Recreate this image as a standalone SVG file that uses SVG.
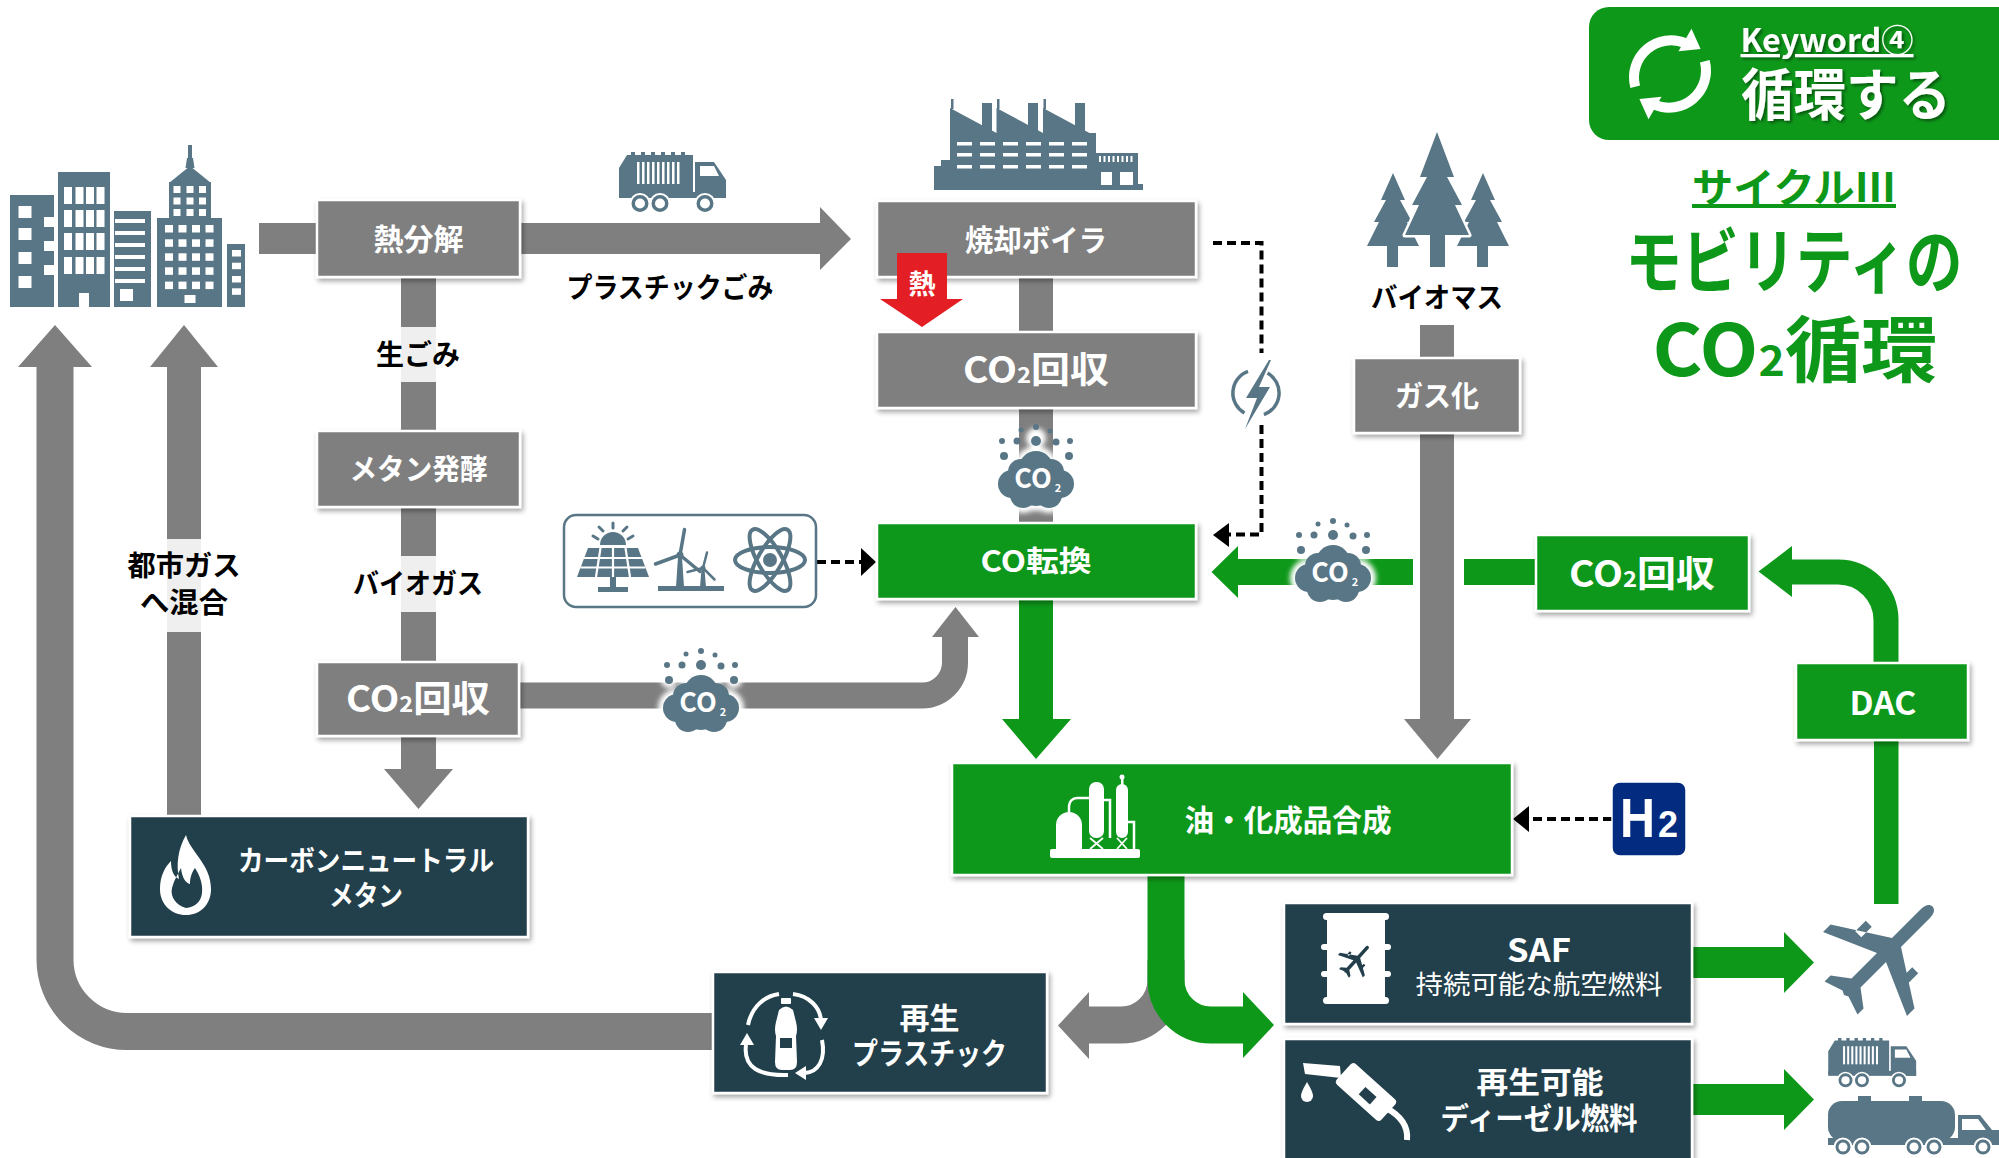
<svg xmlns="http://www.w3.org/2000/svg" width="1999" height="1158" viewBox="0 0 1999 1158">
<style>
  .jp { font-family: "Noto Sans CJK JP", "Noto Sans", sans-serif; font-weight: 700; }
  .tw { fill: #fff; text-anchor: middle; }
  .tk { fill: #000; text-anchor: middle; }
  .box-gray { fill: #7F7F7F; stroke: #fff; stroke-width: 2.5; filter: url(#shadow); }
  .box-green { fill: #0E981A; stroke: #fff; stroke-width: 2.5; filter: url(#shadow); }
  .box-dark { fill: #243F4C; stroke: #fff; stroke-width: 2.5; filter: url(#shadow); }
  .icon { fill: #587685; }
  .gray { fill: #7F7F7F; }
  .green { fill: #0E981A; }
  .dash { fill: none; stroke: #000; stroke-width: 4; stroke-dasharray: 9 5; }
  .lblbg { fill: #fff; fill-opacity: 0.88; }
  .ul { text-decoration: underline; }
</style>
<defs>
  <filter id="shadow" x="-5%" y="-20%" width="115%" height="150%">
    <feDropShadow dx="2" dy="3" stdDeviation="2.5" flood-color="#000" flood-opacity="0.35"/>
  </filter>
  <filter id="txtshadow" x="-10%" y="-20%" width="120%" height="150%">
    <feDropShadow dx="2" dy="2" stdDeviation="1.5" flood-color="#000" flood-opacity="0.45"/>
  </filter>
  <filter id="soft" x="-30%" y="-30%" width="160%" height="160%">
    <feGaussianBlur stdDeviation="2.5"/>
  </filter>
  <!-- CO2 cloud badge, centred on the cloud body -->
  <g id="co2cloud">
    <g fill="#fff" filter="url(#soft)">
      <circle cx="0" cy="-10" r="22"/>
      <circle cx="-24" cy="6" r="19"/>
      <circle cx="24" cy="6" r="19"/>
      <circle cx="0" cy="6" r="27"/>
      <circle cx="-13" cy="17" r="18"/>
      <circle cx="13" cy="17" r="18"/>
      <circle cx="-32" cy="-22" r="8"/>
      <circle cx="33" cy="-22" r="8"/>
      <circle cx="0" cy="-40" r="10"/>
    </g>
    <g fill="#587685">
      <circle cx="0" cy="-10" r="17"/>
      <circle cx="-15" cy="-6" r="13"/>
      <circle cx="15" cy="-6" r="13"/>
      <circle cx="-24" cy="6" r="14"/>
      <circle cx="24" cy="6" r="14"/>
      <circle cx="0" cy="6" r="22"/>
      <circle cx="-13" cy="17" r="13"/>
      <circle cx="13" cy="17" r="13"/>
      <circle cx="-15" cy="-48" r="2.5"/>
      <circle cx="0" cy="-51" r="3"/>
      <circle cx="14" cy="-47" r="2.5"/>
      <circle cx="-34" cy="-37" r="3"/>
      <circle cx="-19" cy="-37" r="3.5"/>
      <circle cx="0" cy="-37" r="5"/>
      <circle cx="20" cy="-36" r="3.5"/>
      <circle cx="34" cy="-37" r="3"/>
      <circle cx="-32" cy="-22" r="4"/>
      <circle cx="33" cy="-22" r="4"/>
    </g>
    <text class="jp" x="-3" y="10" font-size="27" fill="#fff" text-anchor="middle">CO</text>
    <text class="jp" x="22" y="14" font-size="11" fill="#fff" text-anchor="middle">2</text>
  </g>
  <!-- garbage truck -->
  <symbol id="truck" viewBox="0 0 107 62">
    <g fill="#587685">
      <path d="M0,16 L8,3 H74 V44 H0 Z"/>
      <rect x="12" y="0" width="4" height="4"/>
      <rect x="22" y="0" width="4" height="4"/>
      <rect x="32" y="0" width="4" height="4"/>
      <rect x="42" y="0" width="4" height="4"/>
      <rect x="52" y="0" width="4" height="4"/>
      <rect x="62" y="0" width="4" height="4"/>
      <path d="M76,10 H95 L107,28 V46 H76 Z"/>
      <rect x="0" y="40" width="107" height="6"/>
    </g>
    <g fill="#fff">
      <rect x="18" y="10" width="2.5" height="22"/>
      <rect x="23" y="10" width="2.5" height="22"/>
      <rect x="28" y="10" width="2.5" height="22"/>
      <rect x="33" y="10" width="2.5" height="22"/>
      <rect x="38" y="10" width="2.5" height="22"/>
      <rect x="43" y="10" width="2.5" height="22"/>
      <rect x="48" y="10" width="2.5" height="22"/>
      <rect x="53" y="10" width="2.5" height="22"/>
      <rect x="58" y="10" width="2.5" height="22"/>
      <path d="M81,14 H95 L100,24 H81 Z"/>
    </g>
    <g fill="#587685" stroke="#fff" stroke-width="2">
      <circle cx="21" cy="51.5" r="9.5"/>
      <circle cx="41" cy="51.5" r="9.5"/>
      <circle cx="86" cy="51.5" r="9.5"/>
    </g>
    <g fill="#fff">
      <circle cx="21" cy="51.5" r="5"/>
      <circle cx="41" cy="51.5" r="5"/>
      <circle cx="86" cy="51.5" r="5"/>
    </g>
  </symbol>
  <!-- airliner, nose along +x -->
  <path id="plane" d="M62,0 C62,-4 58,-6 52,-6 L14,-6 L-18,-56 L-28,-56 L-6,-6 L-40,-6 L-52,-22 L-60,-22 L-54,-4 L-56,0 L-54,4 L-60,22 L-52,22 L-40,6 L-6,6 L-28,56 L-18,56 L14,6 L52,6 C58,6 62,4 62,0 Z M8,-27 H-6 V-35 H8 Z M8,27 H-6 V35 H8 Z"/>
</defs>

<rect width="1999" height="1158" fill="#fff"/>

<!-- ===== flows ===== -->
<g id="connectors">
  <!-- grey flows -->
  <rect class="gray" x="259" y="223" width="60" height="31"/>
  <polygon class="gray" points="518,223 820,223 820,207 851,239 820,270 820,254 518,254"/>
  <rect class="gray" x="401" y="275" width="35" height="158"/>
  <rect class="gray" x="401" y="505" width="35" height="159"/>
  <rect class="gray" x="401" y="734" width="35" height="37"/>
  <polygon class="gray" points="384,769 453,769 418.5,809"/>
  <path d="M715,1031.5 H127 A72,72 0 0 1 55,959.5 V365" fill="none" stroke="#7F7F7F" stroke-width="37"/>
  <polygon class="gray" points="18,367 92,367 55,325"/>
  <rect class="gray" x="167" y="365" width="34" height="452"/>
  <polygon class="gray" points="150,367 218,367 184,325"/>
  <path d="M517,695.5 H922 A33,33 0 0 0 955,662.5 V635" fill="none" stroke="#7F7F7F" stroke-width="26"/>
  <polygon class="gray" points="932,637 979,637 955.5,607"/>
  <rect class="gray" x="1019" y="275" width="34" height="59"/>
  <rect class="gray" x="1019" y="406" width="34" height="119"/>
  <rect class="gray" x="1420" y="325" width="34" height="35"/>
  <rect class="gray" x="1420" y="431" width="34" height="290"/>
  <polygon class="gray" points="1404,719 1471,719 1437.5,759"/>
  <path d="M1166,960 V980 A45,45 0 0 1 1121,1025 H1087" fill="none" stroke="#7F7F7F" stroke-width="37"/>
  <polygon class="gray" points="1089,992 1089,1059 1058,1025.5"/>

  <!-- green flows -->
  <rect class="green" x="1019" y="597" width="34" height="124"/>
  <polygon class="green" points="1002,719 1071,719 1036,759"/>
  <rect class="green" x="1236" y="559" width="177" height="26"/>
  <polygon class="green" points="1238,546 1238,598 1211.5,572"/>
  <rect class="green" x="1464" y="559" width="74" height="26"/>
  <path d="M1886,665 V620 A48,48 0 0 0 1838,572 H1790" fill="none" stroke="#0E981A" stroke-width="25"/>
  <polygon class="green" points="1792,546 1792,597 1758.5,571.5"/>
  <rect class="green" x="1874" y="738" width="24.5" height="166"/>
  <path d="M1166,873 V980 A45,45 0 0 0 1211,1025 H1245" fill="none" stroke="#0E981A" stroke-width="37"/>
  <polygon class="green" points="1243,992 1243,1058 1274,1025"/>
  <rect class="green" x="1690" y="947" width="96" height="31"/>
  <polygon class="green" points="1784,932 1784,993 1814,962.5"/>
  <rect class="green" x="1690" y="1084" width="96" height="31"/>
  <polygon class="green" points="1784,1069 1784,1130 1814,1099.5"/>

  <!-- electricity / hydrogen supply (dashed) -->
  <path class="dash" d="M1213,243 H1261.5 V353 M1261.5,425 V534.5 H1229"/>
  <polygon points="1229,523 1229,547 1213,535"/>
  <path class="dash" d="M817,562 H862"/>
  <polygon points="861,548 861,576 876,562"/>
  <path class="dash" d="M1612,819 H1528"/>
  <polygon points="1529,806 1529,832 1513,819"/>

  <!-- CO2 badges on the flows -->
  <use href="#co2cloud" x="1036" y="478"/>
  <use href="#co2cloud" x="701" y="702"/>
  <use href="#co2cloud" x="1333" y="572"/>

  <!-- power symbol on the dashed line -->
  <g id="power" fill="none" stroke="#587685" stroke-width="3.5">
    <path d="M1248,371.4 A23,23 0 0 0 1244.5,413"/>
    <path d="M1267.5,373 A23,23 0 0 1 1263.9,414.6"/>
  </g>
  <polygon class="icon" points="1269,360 1246,398 1257,398 1245,429 1270,387 1259,387 1271,360"/>
</g>

<!-- ===== flow labels ===== -->
<g id="labels">
  <rect class="lblbg" x="372" y="327" width="93" height="55"/>
  <text class="jp tk" x="418" y="365" font-size="28">生ごみ</text>
  <rect class="lblbg" x="350" y="556" width="137" height="56"/>
  <text class="jp tk" x="418" y="594" font-size="28" textLength="130" lengthAdjust="spacingAndGlyphs">バイオガス</text>
  <rect class="lblbg" x="125" y="539" width="118" height="93"/>
  <text class="jp tk" font-size="28"><tspan x="184" y="576" textLength="113" lengthAdjust="spacingAndGlyphs">都市ガス</tspan><tspan x="184" y="613" textLength="88" lengthAdjust="spacingAndGlyphs">へ混合</tspan></text>
  <text class="jp tk" x="670" y="298" font-size="28" textLength="207" lengthAdjust="spacingAndGlyphs">プラスチックごみ</text>
  <text class="jp tk" x="1437" y="308" font-size="28" textLength="132" lengthAdjust="spacingAndGlyphs">バイオマス</text>
</g>

<!-- ===== nodes ===== -->
<g id="n-city">
  <g class="icon">
    <rect x="10" y="195" width="44" height="112"/>
    <rect x="58" y="172" width="52" height="135"/>
    <rect x="114" y="211" width="37" height="96"/>
    <rect x="188" y="145" width="4" height="15"/>
    <polygon points="185.5,168 194.5,168 193,158 187,158"/>
    <polygon points="169,183 211,183 190,166"/>
    <rect x="169" y="182" width="42" height="37"/>
    <rect x="157" y="218" width="65" height="89"/>
    <rect x="227" y="244" width="18" height="63"/>
  </g>
  <g fill="#fff">
    <rect x="18.5" y="206" width="13" height="12"/>
    <rect x="18.5" y="228" width="13" height="12"/>
    <rect x="18.5" y="252" width="13" height="12"/>
    <rect x="18.5" y="276" width="13" height="12"/>
    <rect x="44" y="217" width="10" height="10"/>
    <rect x="44" y="241" width="10" height="10"/>
    <rect x="44" y="265" width="10" height="10"/>

    <rect x="64" y="187" width="8" height="17"/><rect x="75.5" y="187" width="8" height="17"/><rect x="86" y="187" width="8" height="17"/><rect x="96.5" y="187" width="8" height="17"/>
    <rect x="64" y="210" width="8" height="17"/><rect x="75.5" y="210" width="8" height="17"/><rect x="86" y="210" width="8" height="17"/><rect x="96.5" y="210" width="8" height="17"/>
    <rect x="64" y="233" width="8" height="17"/><rect x="75.5" y="233" width="8" height="17"/><rect x="86" y="233" width="8" height="17"/><rect x="96.5" y="233" width="8" height="17"/>
    <rect x="64" y="257" width="8" height="17"/><rect x="75.5" y="257" width="8" height="17"/><rect x="86" y="257" width="8" height="17"/><rect x="96.5" y="257" width="8" height="17"/>
    <rect x="79" y="293" width="10" height="14"/>

    <rect x="115" y="219" width="30" height="4"/>
    <rect x="115" y="231" width="30" height="4"/>
    <rect x="115" y="243" width="30" height="4"/>
    <rect x="115" y="255" width="30" height="4"/>
    <rect x="115" y="267" width="30" height="4"/>
    <rect x="115" y="279" width="30" height="4"/>
    <rect x="120" y="289" width="13" height="12"/>

    <rect x="173.5" y="186" width="7" height="7"/><rect x="186.5" y="186" width="7" height="7"/><rect x="199" y="186" width="7" height="7"/>
    <rect x="173.5" y="197.5" width="7" height="7"/><rect x="186.5" y="197.5" width="7" height="7"/><rect x="199" y="197.5" width="7" height="7"/>
    <rect x="173.5" y="209" width="7" height="7"/><rect x="186.5" y="209" width="7" height="7"/><rect x="199" y="209" width="7" height="7"/>

    <rect x="165" y="225" width="8" height="7.5"/><rect x="178.5" y="225" width="8" height="7.5"/><rect x="192" y="225" width="8" height="7.5"/><rect x="205.5" y="225" width="8" height="7.5"/>
    <rect x="165" y="239.3" width="8" height="7.5"/><rect x="178.5" y="239.3" width="8" height="7.5"/><rect x="192" y="239.3" width="8" height="7.5"/><rect x="205.5" y="239.3" width="8" height="7.5"/>
    <rect x="165" y="253.3" width="8" height="7.5"/><rect x="178.5" y="253.3" width="8" height="7.5"/><rect x="192" y="253.3" width="8" height="7.5"/><rect x="205.5" y="253.3" width="8" height="7.5"/>
    <rect x="165" y="267.3" width="8" height="7.5"/><rect x="178.5" y="267.3" width="8" height="7.5"/><rect x="192" y="267.3" width="8" height="7.5"/><rect x="205.5" y="267.3" width="8" height="7.5"/>
    <rect x="165" y="281.6" width="8" height="7.5"/><rect x="178.5" y="281.6" width="8" height="7.5"/><rect x="192" y="281.6" width="8" height="7.5"/><rect x="205.5" y="281.6" width="8" height="7.5"/>
    <rect x="184.5" y="295" width="11" height="8"/>

    <rect x="232" y="250" width="9" height="6.5"/>
    <rect x="232" y="262.7" width="9" height="6.5"/>
    <rect x="232" y="276" width="9" height="6.5"/>
    <rect x="232" y="288.3" width="9" height="6.5"/>
  </g>
</g>

<g id="n-truck-top">
  <use href="#truck" x="619" y="152" width="107" height="62"/>
</g>

<g id="n-factory">
  <g class="icon">
    <rect x="934" y="184" width="209" height="6"/>
    <polygon points="950,185 950,108 996.5,133 996.5,108 1043,133 1043,108 1089.5,133 1096,133 1096,185"/>
    <rect x="951" y="99" width="2.5" height="10"/>
    <rect x="997" y="99" width="2.5" height="10"/>
    <rect x="1043.5" y="99" width="2.5" height="10"/>
    <rect x="982" y="103" width="10" height="35"/>
    <rect x="1028" y="103" width="10" height="35"/>
    <rect x="1075" y="103" width="10" height="35"/>
    <rect x="1096" y="153" width="42" height="32"/>
    <path d="M934,185 V166 H941 V160 H950 V185 Z"/>
  </g>
  <g fill="#fff">
    <rect x="957" y="142" width="15" height="3.5"/><rect x="980" y="142" width="15" height="3.5"/><rect x="1003" y="142" width="15" height="3.5"/><rect x="1026" y="142" width="15" height="3.5"/><rect x="1049" y="142" width="15" height="3.5"/><rect x="1072" y="142" width="15" height="3.5"/>
    <rect x="957" y="153" width="15" height="3.5"/><rect x="980" y="153" width="15" height="3.5"/><rect x="1003" y="153" width="15" height="3.5"/><rect x="1026" y="153" width="15" height="3.5"/><rect x="1049" y="153" width="15" height="3.5"/><rect x="1072" y="153" width="15" height="3.5"/>
    <rect x="957" y="165" width="15" height="3.5"/><rect x="980" y="165" width="15" height="3.5"/><rect x="1003" y="165" width="15" height="3.5"/><rect x="1026" y="165" width="15" height="3.5"/><rect x="1049" y="165" width="15" height="3.5"/><rect x="1072" y="165" width="15" height="3.5"/>
    <rect x="1099" y="156" width="2" height="6"/><rect x="1103.5" y="156" width="2" height="6"/><rect x="1108" y="156" width="2" height="6"/><rect x="1112.5" y="156" width="2" height="6"/><rect x="1117" y="156" width="2" height="6"/><rect x="1121.5" y="156" width="2" height="6"/><rect x="1126" y="156" width="2" height="6"/><rect x="1130.5" y="156" width="2" height="6"/>
    <rect x="1101" y="172" width="11" height="13"/>
    <rect x="1120" y="172" width="13" height="13"/>
  </g>
</g>

<g id="n-biomass" class="icon">
  <polygon points="1393,173 1405,200 1400,200 1412,222 1407,222 1419,246 1367,246 1379,222 1374,222 1386,200 1381,200"/>
  <rect x="1387" y="244" width="11" height="23"/>
  <polygon points="1483,173 1495,200 1490,200 1502,222 1497,222 1509,246 1457,246 1469,222 1464,222 1476,200 1471,200"/>
  <rect x="1477" y="244" width="11" height="23"/>
  <polygon points="1437,132 1454,177 1447,177 1462,205 1455,205 1469,235 1405,235 1419,205 1412,205 1427,177 1420,177" stroke="#fff" stroke-width="5" paint-order="stroke" stroke-linejoin="round"/>
  <rect x="1430" y="233" width="15" height="34"/>
</g>

<g id="n-pyrolysis">
  <rect class="box-gray" x="317" y="200" width="203" height="77"/>
  <text class="jp tw" x="418.5" y="250" font-size="30">熱分解</text>
</g>

<g id="n-methane-fermentation">
  <rect class="box-gray" x="317" y="431" width="203" height="76"/>
  <text class="jp tw" x="418.5" y="480" font-size="29" textLength="138" lengthAdjust="spacingAndGlyphs">メタン発酵</text>
</g>

<g id="n-co2-capture-biogas">
  <rect class="box-gray" x="317" y="662" width="202" height="74"/>
  <text class="jp tw" x="418" y="712" font-size="36" textLength="144" lengthAdjust="spacingAndGlyphs">CO<tspan font-size="22">2</tspan>回収</text>
</g>

<g id="n-cn-methane">
  <rect class="box-dark" x="130" y="816" width="398" height="121"/>
  <path fill="#fff" fill-rule="evenodd" d="M186,835 C190,852 211,864 211,889 C211,905 200,915 186,915 C172,915 160,905 160,889 C160,876 165,867 171,861 C171,871 174,877 179,879 C176,864 178,849 186,835 Z M186,908 C176,905 170,897 172,888 C174,880 178,874 181,868 C182,878 186,883 190,884 C190,877 192,872 195,868 C200,876 203,884 202,893 C201,902 195,907 186,908 Z"/>
  <text class="jp tw" font-size="28"><tspan x="366" y="871" textLength="256" lengthAdjust="spacingAndGlyphs">カーボンニュートラル</tspan><tspan x="366" y="906" textLength="74" lengthAdjust="spacingAndGlyphs">メタン</tspan></text>
</g>

<g id="n-incinerator">
  <rect class="box-gray" x="877" y="201" width="319" height="76"/>
  <text class="jp tw" x="1036" y="251" font-size="30" textLength="142" lengthAdjust="spacingAndGlyphs">焼却ボイラ</text>
</g>

<g id="n-co2-capture-flue">
  <rect class="box-gray" x="877" y="332" width="319" height="76"/>
  <text class="jp tw" x="1036" y="383" font-size="36" textLength="146" lengthAdjust="spacingAndGlyphs">CO<tspan font-size="22">2</tspan>回収</text>
</g>

<g id="n-heat">
  <polygon fill="#E31E24" points="897,253 947,253 947,299 963,299 922,327 880,299 897,299"/>
  <text class="jp tw" x="922" y="294" font-size="27">熱</text>
</g>

<g id="n-energy">
  <rect x="564" y="515" width="252" height="92" rx="12" fill="#fff" stroke="#587685" stroke-width="2.5"/>
  <!-- solar -->
  <g class="icon">
    <path d="M600,545 A13,13 0 0 1 626,545 Z"/>
    <polygon points="588,548 638,548 649,577 577,577"/>
    <rect x="610" y="576" width="6" height="12"/>
    <rect x="598" y="587" width="30" height="5"/>
  </g>
  <g stroke="#587685" stroke-width="3" stroke-linecap="round">
    <line x1="598" y1="539" x2="593" y2="536"/>
    <line x1="603" y1="531" x2="599" y2="527"/>
    <line x1="613" y1="528" x2="613" y2="523"/>
    <line x1="623" y1="531" x2="627" y2="527"/>
    <line x1="628" y1="539" x2="633" y2="536"/>
  </g>
  <g stroke="#fff" stroke-width="2.2">
    <line x1="584" y1="558" x2="642" y2="558"/>
    <line x1="580.5" y1="567.5" x2="645.5" y2="567.5"/>
    <line x1="600.5" y1="548" x2="596" y2="577"/>
    <line x1="613" y1="548" x2="613" y2="577"/>
    <line x1="625.5" y1="548" x2="630" y2="577"/>
  </g>
  <!-- wind -->
  <g class="icon">
    <rect x="658" y="586" width="66" height="5"/>
    <polygon points="678,557 682,557 684,587 676,587"/>
    <polygon points="701.5,569 704.5,569 706,587 700,587"/>
    <circle cx="680" cy="555" r="3.5"/>
    <circle cx="703" cy="568" r="2.5"/>
  </g>
  <g stroke="#587685" stroke-linecap="round" fill="none">
    <path d="M680,555 L684.5,529.5 M680,555 L700,571.5 M680,555 L655.5,564" stroke-width="3.5"/>
    <path d="M703,568 L707,552.5 M703,568 L714.5,579.5 M703,568 L687.5,572" stroke-width="2.5"/>
  </g>
  <!-- nuclear -->
  <g fill="none" stroke="#587685" stroke-width="4">
    <ellipse cx="770" cy="560" rx="35" ry="13"/>
    <ellipse cx="770" cy="560" rx="35" ry="12" transform="rotate(60 770 560)"/>
    <ellipse cx="770" cy="560" rx="35" ry="12" transform="rotate(-60 770 560)"/>
  </g>
  <circle class="icon" cx="770" cy="560" r="7"/>
</g>

<g id="n-co-shift">
  <rect class="box-green" x="877" y="523" width="319" height="76"/>
  <text class="jp tw" x="1036" y="572" font-size="29" textLength="111" lengthAdjust="spacingAndGlyphs">CO転換</text>
</g>

<g id="n-gasification">
  <rect class="box-gray" x="1354" y="358" width="166" height="75"/>
  <text class="jp tw" x="1437" y="407" font-size="29" textLength="84" lengthAdjust="spacingAndGlyphs">ガス化</text>
</g>

<g id="n-co2-capture-air">
  <rect class="box-green" x="1536" y="535" width="213" height="76"/>
  <text class="jp tw" x="1642" y="587" font-size="36" textLength="146" lengthAdjust="spacingAndGlyphs">CO<tspan font-size="22">2</tspan>回収</text>
</g>

<g id="n-dac">
  <rect class="box-green" x="1796" y="663" width="172" height="77"/>
  <text class="jp tw" x="1883" y="715" font-size="32" textLength="67" lengthAdjust="spacingAndGlyphs">DAC</text>
</g>

<g id="n-synthesis">
  <rect class="box-green" x="952" y="763" width="560" height="112"/>
  <g fill="#fff">
    <rect x="1050" y="849" width="90" height="9" rx="2"/>
    <path d="M1056,849 V825 A13,13 0 0 1 1082,825 V849 Z"/>
    <rect x="1089" y="782" width="15" height="56" rx="7"/>
    <rect x="1116" y="784" width="12" height="54" rx="6"/>
    <rect x="1121" y="775" width="2.5" height="10"/>
    <circle cx="1122" cy="777" r="2.5"/>
  </g>
  <g fill="none" stroke="#fff" stroke-width="2.5">
    <path d="M1069,812 V806 A8,8 0 0 1 1077,798 H1089"/>
    <path d="M1104,800 H1110 V838"/>
    <path d="M1128,822 H1134 V849"/>
    <path d="M1090,838 L1103,849 M1103,838 L1090,849 M1117,838 L1127,849 M1127,838 L1117,849" stroke-width="1.8"/>
  </g>
  <text class="jp tw" x="1288" y="831" font-size="30" textLength="207" lengthAdjust="spacingAndGlyphs">油・化成品合成</text>
</g>

<g id="n-h2">
  <rect x="1612" y="782" width="74" height="74" rx="8" fill="#032B80" stroke="#fff" stroke-width="1.5"/>
  <text x="1637.5" y="837" font-family="Liberation Sans, Arial, sans-serif" font-weight="700" font-size="56" fill="#fff" text-anchor="middle" textLength="35" lengthAdjust="spacingAndGlyphs">H</text>
  <text x="1668" y="837" font-family="Liberation Sans, Arial, sans-serif" font-weight="700" font-size="37" fill="#fff" text-anchor="middle" textLength="20" lengthAdjust="spacingAndGlyphs">2</text>
</g>

<g id="n-saf">
  <rect class="box-dark" x="1284" y="903" width="408" height="121"/>
  <g fill="#fff">
    <rect x="1327" y="917" width="58" height="83"/>
    <rect x="1323" y="913" width="66" height="7" rx="3.5"/>
    <rect x="1323" y="997" width="66" height="7" rx="3.5"/>
    <rect x="1321" y="944" width="70" height="6" rx="3"/>
    <rect x="1321" y="971" width="70" height="6" rx="3"/>
  </g>
  <use href="#plane" fill="#243F4C" transform="translate(1356 960) rotate(-48) scale(0.3)"/>
  <text class="jp tw"><tspan x="1539" y="962" font-size="32" textLength="64" lengthAdjust="spacingAndGlyphs">SAF</tspan><tspan x="1539" y="994" font-size="26" style="font-weight:400" textLength="247" lengthAdjust="spacingAndGlyphs">持続可能な航空燃料</tspan></text>
</g>

<g id="n-diesel">
  <rect class="box-dark" x="1284" y="1039" width="408" height="130"/>
  <g fill="#fff">
    <path d="M1303,1063 L1340,1066 L1341,1078 L1305,1074 Z"/>
    <rect x="-30" y="-14" width="60" height="28" rx="4" transform="translate(1366 1092) rotate(42)"/>
    <path d="M1307,1082 Q1301,1092 1301,1096 A6,6 0 0 0 1313,1096 Q1313,1092 1307,1082 Z"/>
  </g>
  <rect x="-8" y="-5" width="15" height="10" fill="#243F4C" transform="translate(1368 1096) rotate(42)"/>
  <path d="M1386,1108 Q1409,1120 1407,1140" fill="none" stroke="#fff" stroke-width="6"/>
  <text class="jp tw" font-size="30"><tspan x="1540" y="1093" textLength="127" lengthAdjust="spacingAndGlyphs">再生可能</tspan><tspan x="1539" y="1129" textLength="197" lengthAdjust="spacingAndGlyphs">ディーゼル燃料</tspan></text>
</g>

<g id="n-recycled-plastic">
  <rect class="box-dark" x="713" y="972" width="334" height="121"/>
  <g fill="#fff">
    <rect x="781" y="998" width="10" height="6" rx="1"/>
    <path d="M779,1010 Q786,1003 793,1010 L796,1022 Q798,1030 796,1036 L797,1062 Q797,1070 790,1070 H782 Q775,1070 775,1062 L776,1036 Q774,1030 776,1022 Z"/>
    <polygon points="814,1018 828,1018 821,1030"/>
    <polygon points="806,1066 806,1080 795,1073"/>
    <polygon points="740,1045 754,1045 747,1033"/>
  </g>
  <rect x="780" y="1038" width="12" height="10" fill="#243F4C"/>
  <g fill="none" stroke="#fff" stroke-width="4">
    <path d="M793,994 C810,996 820,1008 821,1020"/>
    <path d="M822,1040 C826,1060 818,1072 805,1073"/>
    <path d="M788,1075 C760,1076 743,1068 746,1045"/>
    <path d="M748,1025 C752,1006 765,996 779,994"/>
  </g>
  <text class="jp tw" font-size="30"><tspan x="929.5" y="1029">再生</tspan><tspan x="929.5" y="1064" textLength="155" lengthAdjust="spacingAndGlyphs">プラスチック</tspan></text>
</g>

<g id="n-aircraft">
  <use href="#plane" fill="#587685" transform="translate(1886 953) rotate(-45) scale(1.06)"/>
</g>

<g id="n-trucks">
  <use href="#truck" x="1828" y="1038" width="88.5" height="51"/>
  <g class="icon">
    <rect x="1828" y="1101" width="127" height="40" rx="14"/>
    <rect x="1858" y="1096" width="13" height="6"/>
    <rect x="1909" y="1096" width="13" height="6"/>
    <path d="M1958,1115 H1980 L1992,1130 H1999 V1145 H1958 Z"/>
    <rect x="1828" y="1138" width="171" height="7"/>
  </g>
  <path d="M1962,1119 H1978 L1986,1130 H1962 Z" fill="#fff"/>
  <g fill="#587685" stroke="#fff" stroke-width="2">
    <circle cx="1843" cy="1147" r="8.5"/>
    <circle cx="1862" cy="1147" r="8.5"/>
    <circle cx="1914" cy="1147" r="8.5"/>
    <circle cx="1934" cy="1147" r="8.5"/>
    <circle cx="1983" cy="1147" r="8.5"/>
  </g>
  <g fill="#fff">
    <circle cx="1843" cy="1147" r="4.5"/>
    <circle cx="1862" cy="1147" r="4.5"/>
    <circle cx="1914" cy="1147" r="4.5"/>
    <circle cx="1934" cy="1147" r="4.5"/>
    <circle cx="1983" cy="1147" r="4.5"/>
  </g>
</g>

<!-- ===== heading ===== -->
<g id="keyword">
  <rect x="1589" y="7" width="440" height="133" rx="20" fill="#0E981A"/>
  <g fill="none" stroke="#fff" stroke-width="10">
    <path d="M1635.2,86.7 A37,37 0 0 1 1686,43.5"/>
    <path d="M1704.8,61.3 A37,37 0 0 1 1654,104.5"/>
  </g>
  <g fill="#fff">
    <polygon points="1700.6,49 1678.5,51.3 1691.5,28.7"/>
    <polygon points="1639.4,99 1661.5,96.7 1648.5,119.3"/>
  </g>
  <text class="jp" fill="#fff" text-anchor="middle" filter="url(#txtshadow)"><tspan class="ul" x="1827" y="52" font-size="32" textLength="173" lengthAdjust="spacingAndGlyphs">Keyword④</tspan><tspan x="1846" y="115" font-size="56" textLength="210" lengthAdjust="spacingAndGlyphs">循環する</tspan></text>
</g>

<g id="title" fill="#0E981A">
  <text class="jp" text-anchor="middle"><tspan class="ul" x="1794" y="202" font-size="40" textLength="204" lengthAdjust="spacingAndGlyphs">サイクルⅢ</tspan></text>
  <!-- condensed headline: natural width scaled to fit -->
  <text class="jp" text-anchor="middle" font-size="71" transform="translate(1794 287) scale(0.8 1)">モビリティの</text>
  <text class="jp" text-anchor="middle" x="1795" y="376" font-size="72" textLength="285" lengthAdjust="spacingAndGlyphs">CO<tspan font-size="42">2</tspan>循環</text>
</g>
</svg>
